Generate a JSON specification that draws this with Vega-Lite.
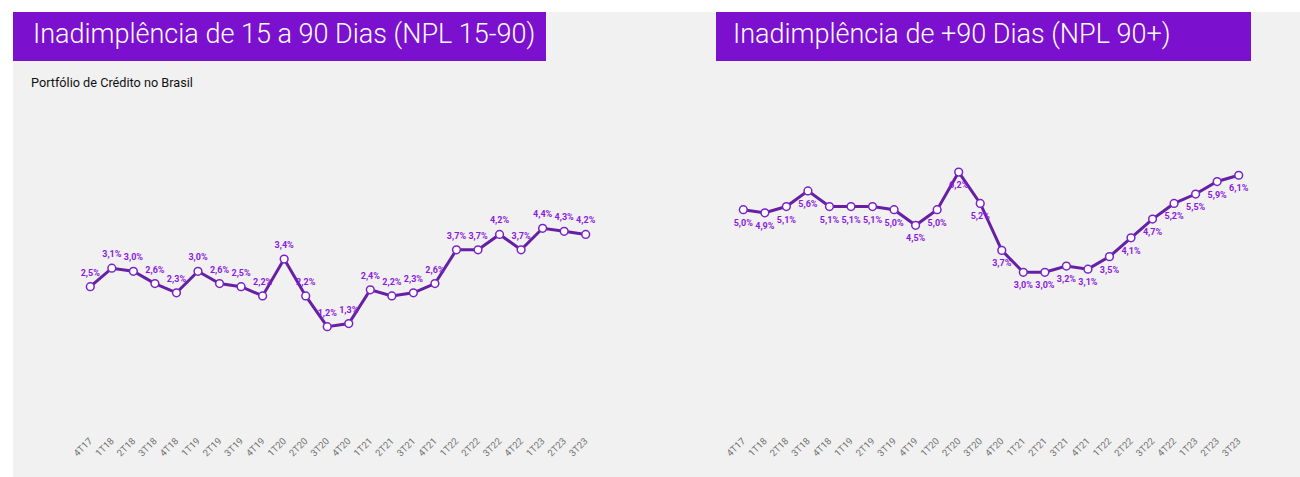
{
  "$schema": "https://vega.github.io/schema/vega-lite/v6.json",
  "background": "white",
  "padding": {"left": 13, "top": 12, "right": 0, "bottom": 0},
  "config": {
    "view": {"stroke": null},
    "font": "Roboto",
    "locale": {"number": {"decimal": ",", "thousands": ".", "grouping": [3], "currency": ["R$", ""]}}
  },
  "datasets": {
    "npl1590": [
      {"tri": "4T17", "npl": 0.025}, {"tri": "1T18", "npl": 0.031}, {"tri": "2T18", "npl": 0.030},
      {"tri": "3T18", "npl": 0.026}, {"tri": "4T18", "npl": 0.023}, {"tri": "1T19", "npl": 0.030},
      {"tri": "2T19", "npl": 0.026}, {"tri": "3T19", "npl": 0.025}, {"tri": "4T19", "npl": 0.022},
      {"tri": "1T20", "npl": 0.034}, {"tri": "2T20", "npl": 0.022}, {"tri": "3T20", "npl": 0.012},
      {"tri": "4T20", "npl": 0.013}, {"tri": "1T21", "npl": 0.024}, {"tri": "2T21", "npl": 0.022},
      {"tri": "3T21", "npl": 0.023}, {"tri": "4T21", "npl": 0.026}, {"tri": "1T22", "npl": 0.037},
      {"tri": "2T22", "npl": 0.037}, {"tri": "3T22", "npl": 0.042}, {"tri": "4T22", "npl": 0.037},
      {"tri": "1T23", "npl": 0.044}, {"tri": "2T23", "npl": 0.043}, {"tri": "3T23", "npl": 0.042}
    ],
    "npl90": [
      {"tri": "4T17", "npl": 0.050}, {"tri": "1T18", "npl": 0.049}, {"tri": "2T18", "npl": 0.051},
      {"tri": "3T18", "npl": 0.056}, {"tri": "4T18", "npl": 0.051}, {"tri": "1T19", "npl": 0.051},
      {"tri": "2T19", "npl": 0.051}, {"tri": "3T19", "npl": 0.050}, {"tri": "4T19", "npl": 0.045},
      {"tri": "1T20", "npl": 0.050}, {"tri": "2T20", "npl": 0.062}, {"tri": "3T20", "npl": 0.052},
      {"tri": "4T20", "npl": 0.037}, {"tri": "1T21", "npl": 0.030}, {"tri": "2T21", "npl": 0.030},
      {"tri": "3T21", "npl": 0.032}, {"tri": "4T21", "npl": 0.031}, {"tri": "1T22", "npl": 0.035},
      {"tri": "2T22", "npl": 0.041}, {"tri": "3T22", "npl": 0.047}, {"tri": "4T22", "npl": 0.052},
      {"tri": "1T23", "npl": 0.055}, {"tri": "2T23", "npl": 0.059}, {"tri": "3T23", "npl": 0.061}
    ]
  },
  "spacing": 0,
  "vconcat": [
    {
      "spacing": 0,
      "hconcat": [
        {
          "width": 533, "height": 49,
          "view": {"fill": "#7C10CF", "stroke": null},
          "title": {"text": "Inadimplência de 15 a 90 Dias (NPL 15-90)", "anchor": "start", "frame": "group", "orient": "none", "dx": 20, "dy": 31, "align": "left", "baseline": "alphabetic", "color": "white", "fontSize": 27, "fontWeight": 300, "font": "Roboto"},
          "data": {"values": [{}]},
          "mark": {"type": "text"},
          "encoding": {"text": {"value": ""}}
        },
        {
          "width": 170, "height": 49,
          "view": {"fill": "#f1f1f1", "stroke": null},
          "data": {"values": [{}]},
          "mark": {"type": "text"},
          "encoding": {"text": {"value": ""}}
        },
        {
          "width": 535, "height": 49,
          "view": {"fill": "#7C10CF", "stroke": null},
          "title": {"text": "Inadimplência de +90 Dias (NPL 90+)", "anchor": "start", "frame": "group", "orient": "none", "dx": 17, "dy": 31, "align": "left", "baseline": "alphabetic", "color": "white", "fontSize": 27, "fontWeight": 300, "font": "Roboto"},
          "data": {"values": [{}]},
          "mark": {"type": "text"},
          "encoding": {"text": {"value": ""}}
        },
        {
          "width": 49, "height": 49,
          "view": {"fill": "#f1f1f1", "stroke": null},
          "data": {"values": [{}]},
          "mark": {"type": "text"},
          "encoding": {"text": {"value": ""}}
        }
      ]
    },
    {
      "spacing": 0,
      "hconcat": [
        {
          "width": 637, "height": 416,
          "view": {"fill": "#f1f1f1", "stroke": null},
          "title": {"text": "Portfólio de Crédito no Brasil", "anchor": "start", "frame": "group", "orient": "none", "dx": 18, "dy": 26, "align": "left", "baseline": "alphabetic", "color": "#111111", "fontSize": 12.7, "fontWeight": "normal", "font": "Roboto"},
          "data": {"name": "npl1590"},
          "encoding": {
            "x": {"field": "tri", "type": "ordinal", "sort": null,
                  "scale": {"type": "point", "range": [77.3, 572.7], "padding": 0},
                  "axis": {"title": null, "labelAngle": 315, "labelAlign": "right", "labelBaseline": "middle", "labelFontSize": 9.5, "labelColor": "#707070", "ticks": false, "domain": false, "grid": false, "offset": -42, "labelPadding": 4, "labelFont": "Roboto"}},
            "y": {"field": "npl", "type": "quantitative",
                  "scale": {"domain": [-0.0369, 0.0984], "nice": false, "zero": false},
                  "axis": null}
          },
          "layer": [
            {"mark": {"type": "line", "color": "#6620A3", "strokeWidth": 3}},
            {"mark": {"type": "circle", "fill": "white", "stroke": "#7A22C8", "strokeWidth": 1.5, "size": 60, "opacity": 1}},
            {"mark": {"type": "text", "dy": -14, "fontSize": 9, "fontWeight": "bold", "color": "#8B1AE0", "font": "Roboto"},
             "encoding": {"text": {"field": "npl", "type": "quantitative", "format": ".1%"}}}
          ]
        },
        {
          "width": 650, "height": 416,
          "view": {"fill": "#f1f1f1", "stroke": null},
          "data": {"name": "npl90"},
          "encoding": {
            "x": {"field": "tri", "type": "ordinal", "sort": null,
                  "scale": {"type": "point", "range": [93.3, 588.7], "padding": 0},
                  "axis": {"title": null, "labelAngle": 315, "labelAlign": "right", "labelBaseline": "middle", "labelFontSize": 9.5, "labelColor": "#707070", "ticks": false, "domain": false, "grid": false, "offset": -42, "labelPadding": 4, "labelFont": "Roboto"}},
            "y": {"field": "npl", "type": "quantitative",
                  "scale": {"domain": [-0.0354, 0.0975], "nice": false, "zero": false},
                  "axis": null}
          },
          "layer": [
            {"mark": {"type": "line", "color": "#6620A3", "strokeWidth": 3}},
            {"mark": {"type": "circle", "fill": "white", "stroke": "#7A22C8", "strokeWidth": 1.5, "size": 60, "opacity": 1}},
            {"mark": {"type": "text", "dy": 13, "fontSize": 9, "fontWeight": "bold", "color": "#8B1AE0", "font": "Roboto"},
             "encoding": {"text": {"field": "npl", "type": "quantitative", "format": ".1%"}}}
          ]
        }
      ]
    }
  ]
}
